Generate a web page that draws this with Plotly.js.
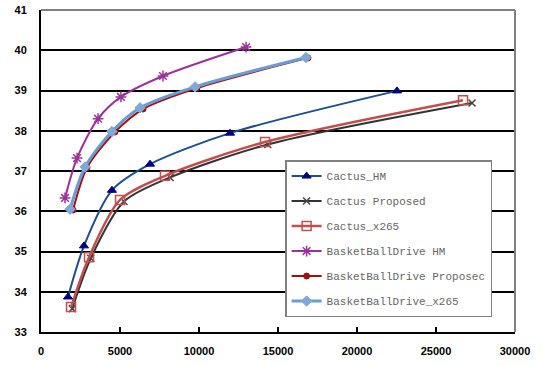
<!DOCTYPE html>
<html><head><meta charset="utf-8">
<script src="https://cdn.plot.ly/plotly-3.0.1.min.js"></script>
<style>html,body{margin:0;padding:0;background:#fff;}#chart{width:542px;height:366px;}</style>
</head><body><div id="chart"></div>
<script>
const names = ["Cactus_HM","Cactus Proposed","Cactus_x265","BasketBallDrive HM","BasketBallDrive Proposec","BasketBallDrive_x265"];
const cactusHM_x = [1710, 2720, 4490, 6900, 11960, 22530];
const cactusHM_y = [33.87, 35.14, 36.52, 37.17, 37.94, 38.99];
const cactusProp_x = [1980, 3150, 5250, 8170, 14350, 27280];
const cactusProp_y = [33.58, 34.83, 36.24, 36.84, 37.66, 38.69];
const cactusX265_x = [1900, 3040, 5000, 7850, 14180, 26710];
const cactusX265_y = [33.62, 34.86, 36.28, 36.88, 37.72, 38.76];
const bbHM_x = [1520, 2280, 3610, 5060, 7720, 12980];
const bbHM_y = [36.33, 37.32, 38.3, 38.84, 39.36, 40.08];
const bbProp_x = [2030, 2910, 4680, 6460, 9870, 16900];
const bbProp_y = [36.03, 37.08, 37.97, 38.54, 39.06, 39.81];
const bbX265_x = [1840, 2790, 4490, 6270, 9750, 16770];
const bbX265_y = [36.05, 37.1, 37.98, 38.57, 39.09, 39.82];
const xTicks = [0, 5000, 10000, 15000, 20000, 25000, 30000];
const yTicks = [33, 34, 35, 36, 37, 38, 39, 40, 41];

function tr(i, x, y, color, lw, sym, msize, mcolor, mline) {
  return {x: x, y: y, name: names[i], legendgroup: 'g'+i, legendrank: i + 1, type: 'scatter', mode: 'lines+markers',
    line: {color: color, width: lw, shape: 'spline', smoothing: 0.8},
    marker: {symbol: sym, size: msize, color: mcolor, line: {color: mcolor, width: mline}}};
}
const data = [
  tr(1, cactusProp_x, cactusProp_y, '#333333', 2, 'x-thin-open', 7, '#444444', 1.5),
  tr(2, cactusX265_x, cactusX265_y, '#C0504D', 2.5, 'square-open', 9, '#C0504D', 1.5),
  tr(0, cactusHM_x, cactusHM_y, '#1F4E8C', 2, 'triangle-up', 8, '#000080', 1),
  tr(3, bbHM_x, bbHM_y, '#993399', 2, 'asterisk-open', 9, '#993399', 1.5),
  tr(4, bbProp_x, bbProp_y, '#A01010', 2, 'circle', 6, '#A01010', 1),
  tr(5, bbX265_x, bbX265_y, '#6A9BD3', 3, 'diamond', 8, '#7FA7D8', 1)
];

const tickFont = {family: 'Liberation Sans, Arial, sans-serif', size: 11, color: '#000', weight: 700};
const layout = {
  width: 542, height: 366,
  margin: {l: 41, r: 27, t: 10, b: 34},
  paper_bgcolor: '#fff', plot_bgcolor: '#fff',
  showlegend: true,
  legend: {x: 0.515, y: 0.534, xanchor: 'left', yanchor: 'top',
    bgcolor: '#fff', bordercolor: '#808080', borderwidth: 1.5,
    font: {family: 'Liberation Mono, DejaVu Sans Mono, monospace', size: 11, color: '#666'},
    tracegroupgap: 6, itemwidth: 30, traceorder: 'grouped'},
  xaxis: {range: [0, 30000], tickvals: xTicks, ticktext: xTicks.map(String),
    showgrid: false, zeroline: false, showline: true, linecolor: '#000', linewidth: 2,
    ticks: 'inside', ticklen: 5, tickwidth: 2, tickcolor: '#000', tickfont: tickFont, ticklabelstandoff: 8},
  yaxis: {range: [33, 41], tickvals: yTicks, ticktext: yTicks.map(String),
    showgrid: true, gridcolor: '#000', gridwidth: 2, zeroline: false,
    showline: true, linecolor: '#000', linewidth: 2, ticks: '', tickfont: tickFont, ticklabelstandoff: 10},
  shapes: [
    {type: 'line', xref: 'paper', yref: 'paper', x0: 0, x1: 1, y0: 1, y1: 1, line: {color: '#808080', width: 2}},
    {type: 'line', xref: 'paper', yref: 'paper', x0: 1, x1: 1, y0: 0, y1: 1, line: {color: '#808080', width: 2}}
  ]
};
Plotly.newPlot('chart', data, layout, {displayModeBar: false, staticPlot: true});
</script></body></html>
